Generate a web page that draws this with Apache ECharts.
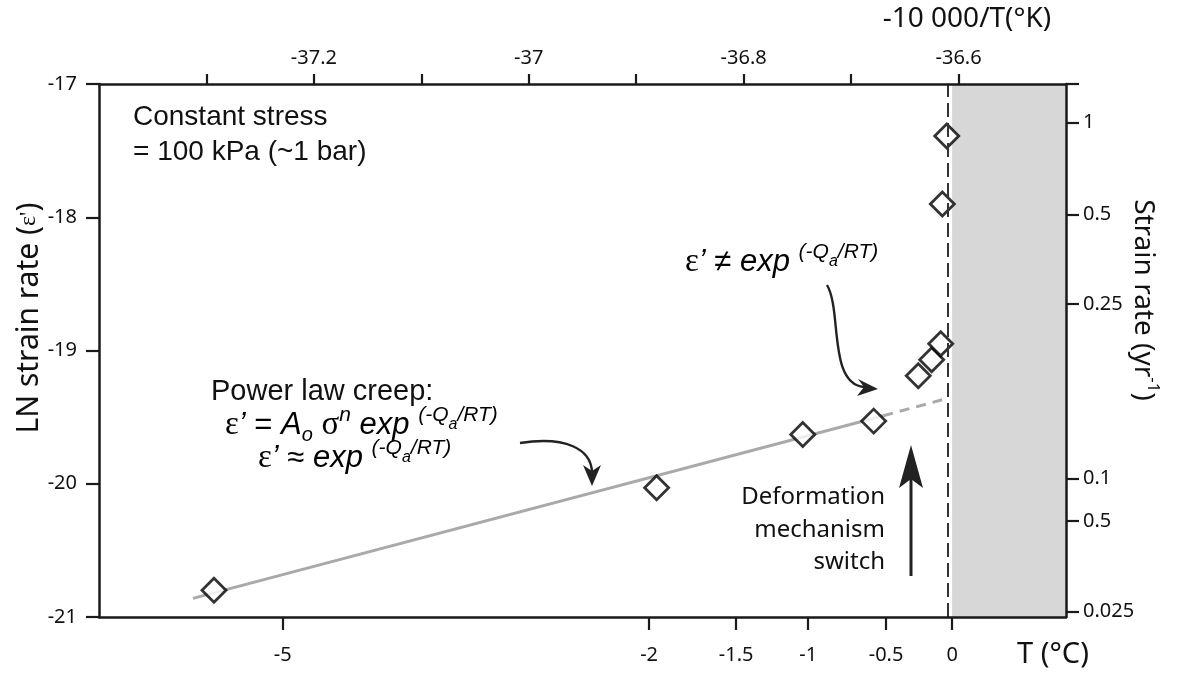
<!DOCTYPE html>
<html>
<head>
<meta charset="utf-8">
<script src="https://cdn.jsdelivr.net/npm/echarts@6/dist/echarts.min.js"></script>
<style>
  html, body { margin: 0; padding: 0; background: #fff; }
  #chart { width: 1187px; height: 677px; }
</style>
</head>
<body>
<div id="chart"></div>
<script>
// Horizontal position is -10000/T (T in kelvin); vertical is ln of the strain rate.
const invT   = [-37.293, -36.881, -36.745, -36.679, -36.6375, -36.625, -36.6166, -36.6151, -36.611];
const lnRate = [-20.80, -20.03, -19.63, -19.53, -19.19, -19.07, -18.95, -17.90, -17.39];

// Power-law creep fit: solid part, then its dashed extension up to the melting point
const fitSolid  = [[-37.3125, -20.86], [-36.670, -19.49]];
const fitDashed = [[-36.670, -19.49], [-36.611, -19.36]];

// Melting point on the -10000/T scale, and the plotted range
const tMelt = -36.606;
const xMin = -37.4, xMax = -36.5;

// Top axis (-10000/T)
const topTicks       = [-37.3, -37.2, -37.1, -37.0, -36.9, -36.8, -36.7, -36.6];
const topLabelValues = [-37.2, -37.0, -36.8, -36.6];
const topLabels      = ['-37.2', '-37', '-36.8', '-36.6'];

// Bottom axis: temperature in °C, positioned on the -10000/T scale
const bottomTickPos = [-37.229, -36.888, -36.807, -36.740, -36.6675, -36.606];
const bottomLabels  = ['-5', '-2', '-1.5', '-1', '-0.5', '0'];

// Right axis: strain rate per year, positioned on the ln scale
const rightTickPos = [-17.29, -17.98, -18.65, -19.96, -20.28, -20.96];
const rightLabels  = ['1', '0.5', '0.25', '0.1', '0.5', '0.025'];

function pick(values, labels) {
  return function (v) {
    let best = 0;
    for (let i = 1; i < values.length; i++) {
      if (Math.abs(values[i] - v) < Math.abs(values[best] - v)) best = i;
    }
    return labels[best];
  };
}

const AX = '#1a1a1a';
const tickFont = { fontFamily: 'Noto Sans', fontSize: 20, color: '#111' };
const axisLine = { show: true, onZero: false, lineStyle: { color: AX, width: 2.5 } };

const chart = echarts.init(document.getElementById('chart'), null, { renderer: 'canvas' });

const eqRich = {
  e:   { fontFamily: 'Liberation Serif', fontSize: 33, color: '#111', lineHeight: 40 },
  p:   { fontFamily: 'Liberation Sans', fontStyle: 'italic', fontSize: 31, color: '#111', lineHeight: 40 },
  n:   { fontFamily: 'Liberation Sans', fontSize: 31, color: '#111', lineHeight: 40 },
  i:   { fontFamily: 'Liberation Sans', fontStyle: 'italic', fontSize: 31, color: '#111', lineHeight: 40 },
  s:   { fontFamily: 'Liberation Serif', fontSize: 33, color: '#111', lineHeight: 40 },
  sub: { fontFamily: 'Liberation Sans', fontStyle: 'italic', fontSize: 20, color: '#111', verticalAlign: 'bottom' },
  sup: { fontFamily: 'Liberation Sans', fontStyle: 'italic', fontSize: 21, color: '#111', verticalAlign: 'top' },
  ss:  { fontFamily: 'Liberation Sans', fontStyle: 'italic', fontSize: 16, color: '#111', verticalAlign: 'middle' }
};
const expTail = '{sup|(-Q}{ss|a}{sup|/RT)}';

const option = {
  animation: false,
  backgroundColor: '#fff',
  grid: { left: 99, right: 121, top: 84, bottom: 60, containLabel: false },
  xAxis: [
    {
      type: 'value', position: 'bottom', min: xMin, max: xMax, z: 5,
      axisLine: axisLine,
      axisTick: { show: true, customValues: bottomTickPos, length: 13, inside: false, lineStyle: { color: AX, width: 2.2 } },
      axisLabel: { customValues: bottomTickPos, margin: 28, formatter: pick(bottomTickPos, bottomLabels), ...tickFont },
      splitLine: { show: false }
    },
    {
      type: 'value', position: 'top', min: xMin, max: xMax, z: 5,
      axisLine: axisLine,
      axisTick: { show: true, customValues: topTicks, length: 10, inside: false, lineStyle: { color: AX, width: 2.2 } },
      axisLabel: { customValues: topLabelValues, margin: 16, formatter: pick(topLabelValues, topLabels), ...tickFont },
      splitLine: { show: false }
    }
  ],
  yAxis: [
    {
      type: 'value', position: 'left', min: -21, max: -17, interval: 1, z: 5,
      axisLine: axisLine,
      axisTick: { show: true, length: 13, inside: false, lineStyle: { color: AX, width: 2.2 } },
      axisLabel: { margin: 22, ...tickFont },
      splitLine: { show: false }
    },
    {
      type: 'value', position: 'right', min: -21, max: -17, z: 5,
      axisLine: axisLine,
      axisTick: { show: true, customValues: [-17].concat(rightTickPos), length: 13, inside: false, lineStyle: { color: AX, width: 2.2 } },
      axisLabel: { customValues: rightTickPos, margin: 17, formatter: pick(rightTickPos, rightLabels), ...tickFont },
      splitLine: { show: false }
    }
  ],
  series: [
    {
      name: 'Power law fit',
      type: 'line', xAxisIndex: 0, yAxisIndex: 0,
      data: fitSolid, showSymbol: false, symbol: 'none', silent: true, z: 2,
      lineStyle: { color: '#a9a9a9', width: 3 },
      markArea: {
        silent: true,
        itemStyle: { color: '#d7d7d7' },
        data: [[{ xAxis: tMelt }, { xAxis: xMax }]]
      },
      markLine: {
        silent: true, symbol: 'none', label: { show: false },
        lineStyle: { color: '#333', width: 2, type: [14, 6] },
        data: [{ xAxis: tMelt }]
      }
    },
    {
      name: 'Power law fit (extended)',
      type: 'line', xAxisIndex: 0, yAxisIndex: 0,
      data: fitDashed, showSymbol: false, symbol: 'none', silent: true, z: 2,
      lineStyle: { color: '#a9a9a9', width: 3, type: [10, 7] }
    },
    {
      name: 'Strain rate',
      type: 'scatter', xAxisIndex: 0, yAxisIndex: 0, z: 4,
      symbol: 'diamond', symbolSize: 24,
      itemStyle: { color: '#fff', borderColor: '#000', borderWidth: 2.8 },
      data: invT.map((x, i) => [x, lnRate[i]])
    }
  ],
  graphic: [
    // axis titles
    { type: 'text', x: 967, y: 19, style: { text: '-10 000/T(°K)', fontFamily: 'Noto Sans', fontSize: 28, fill: '#111', align: 'center', verticalAlign: 'middle' } },
    { type: 'text', x: 1053, y: 655, style: { text: 'T (°C)', fontFamily: 'Noto Sans', fontSize: 29, fill: '#111', align: 'center', verticalAlign: 'middle' } },
    { type: 'text', x: 29, y: 318, rotation: Math.PI / 2,
      style: { text: 'LN strain rate ({e|ε\'})', fontFamily: 'Noto Sans', fontSize: 30, fill: '#111', align: 'center', verticalAlign: 'middle',
        rich: { e: { fontFamily: 'Liberation Serif', fontSize: 24, fill: '#111' } } } },
    { type: 'text', x: 1143, y: 300, rotation: -Math.PI / 2,
      style: { text: 'Strain rate (yr{sup|-1})', fontFamily: 'Noto Sans', fontSize: 28, fill: '#111', align: 'center', verticalAlign: 'middle', lineHeight: 36,
        rich: { sup: { fontFamily: 'Noto Sans', fontSize: 17, fill: '#111', verticalAlign: 'top' } } } },

    // notes
    { type: 'text', x: 133, y: 117, style: { text: 'Constant stress', fontFamily: 'Liberation Sans', fontSize: 28, fill: '#111', verticalAlign: 'middle' } },
    { type: 'text', x: 133, y: 152, style: { text: '= 100 kPa (~1 bar)', fontFamily: 'Liberation Sans', fontSize: 28, fill: '#111', verticalAlign: 'middle' } },
    { type: 'text', x: 211, y: 392, style: { text: 'Power law creep:', fontFamily: 'Liberation Sans', fontSize: 29, fill: '#111', verticalAlign: 'middle' } },
    { type: 'text', x: 225, y: 425, style: { text: '{e|ε}{p|’}{n| = }{i|A}{sub|o}{n| }{s|σ}{sup|n}{i| exp }' + expTail, rich: eqRich, verticalAlign: 'middle' } },
    { type: 'text', x: 258, y: 458, style: { text: '{e|ε}{p|’}{n| ≈ }{i|exp }' + expTail, rich: eqRich, verticalAlign: 'middle' } },
    { type: 'text', x: 685, y: 262, style: { text: '{e|ε}{p|’}{n| ≠ }{i|exp }' + expTail, rich: eqRich, verticalAlign: 'middle' } },
    { type: 'text', x: 885, y: 530, style: { text: 'Deformation\nmechanism\nswitch', fontFamily: 'Noto Sans', fontSize: 24, lineHeight: 32.5, fill: '#111', align: 'right', verticalAlign: 'middle' } },
    { type: 'text', x: 971, y: 432, rotation: -Math.PI / 2,
      style: { text: '{t|T}{m|melt}', align: 'left', verticalAlign: 'middle',
        rich: { t: { fontFamily: 'Liberation Sans', fontStyle: 'italic', fontSize: 27, fill: '#111', lineHeight: 34 },
                m: { fontFamily: 'Liberation Sans', fontStyle: 'italic', fontSize: 20, fill: '#111', verticalAlign: 'bottom' } } } },

    // curved arrow toward the power-law line
    { type: 'bezierCurve', shape: { x1: 520, y1: 443, cpx1: 566, cpy1: 436, cpx2: 591, cpy2: 449, x2: 592, y2: 472 },
      style: { stroke: '#222', lineWidth: 2.4, fill: null } },
    { type: 'polygon', shape: { points: [[592, 486], [583, 465], [592, 471], [601, 465]] }, style: { fill: '#222' } },

    // curved arrow toward the departing points
    { type: 'bezierCurve', shape: { x1: 827, y1: 285, cpx1: 842, cpy1: 310, cpx2: 828, cpy2: 384, x2: 864, y2: 387 },
      style: { stroke: '#222', lineWidth: 2.4, fill: null } },
    { type: 'polygon', shape: { points: [[878, 389], [858, 379], [864, 387], [857, 396]] }, style: { fill: '#222' } },

    // mechanism switch arrow
    { type: 'line', shape: { x1: 911, y1: 576, x2: 911, y2: 476 }, style: { stroke: '#222', lineWidth: 3 } },
    { type: 'polygon', shape: { points: [[911, 445], [899, 488], [911, 479], [923, 488]] }, style: { fill: '#222' } }
  ]
};

chart.setOption(option);
</script>
</body>
</html>
